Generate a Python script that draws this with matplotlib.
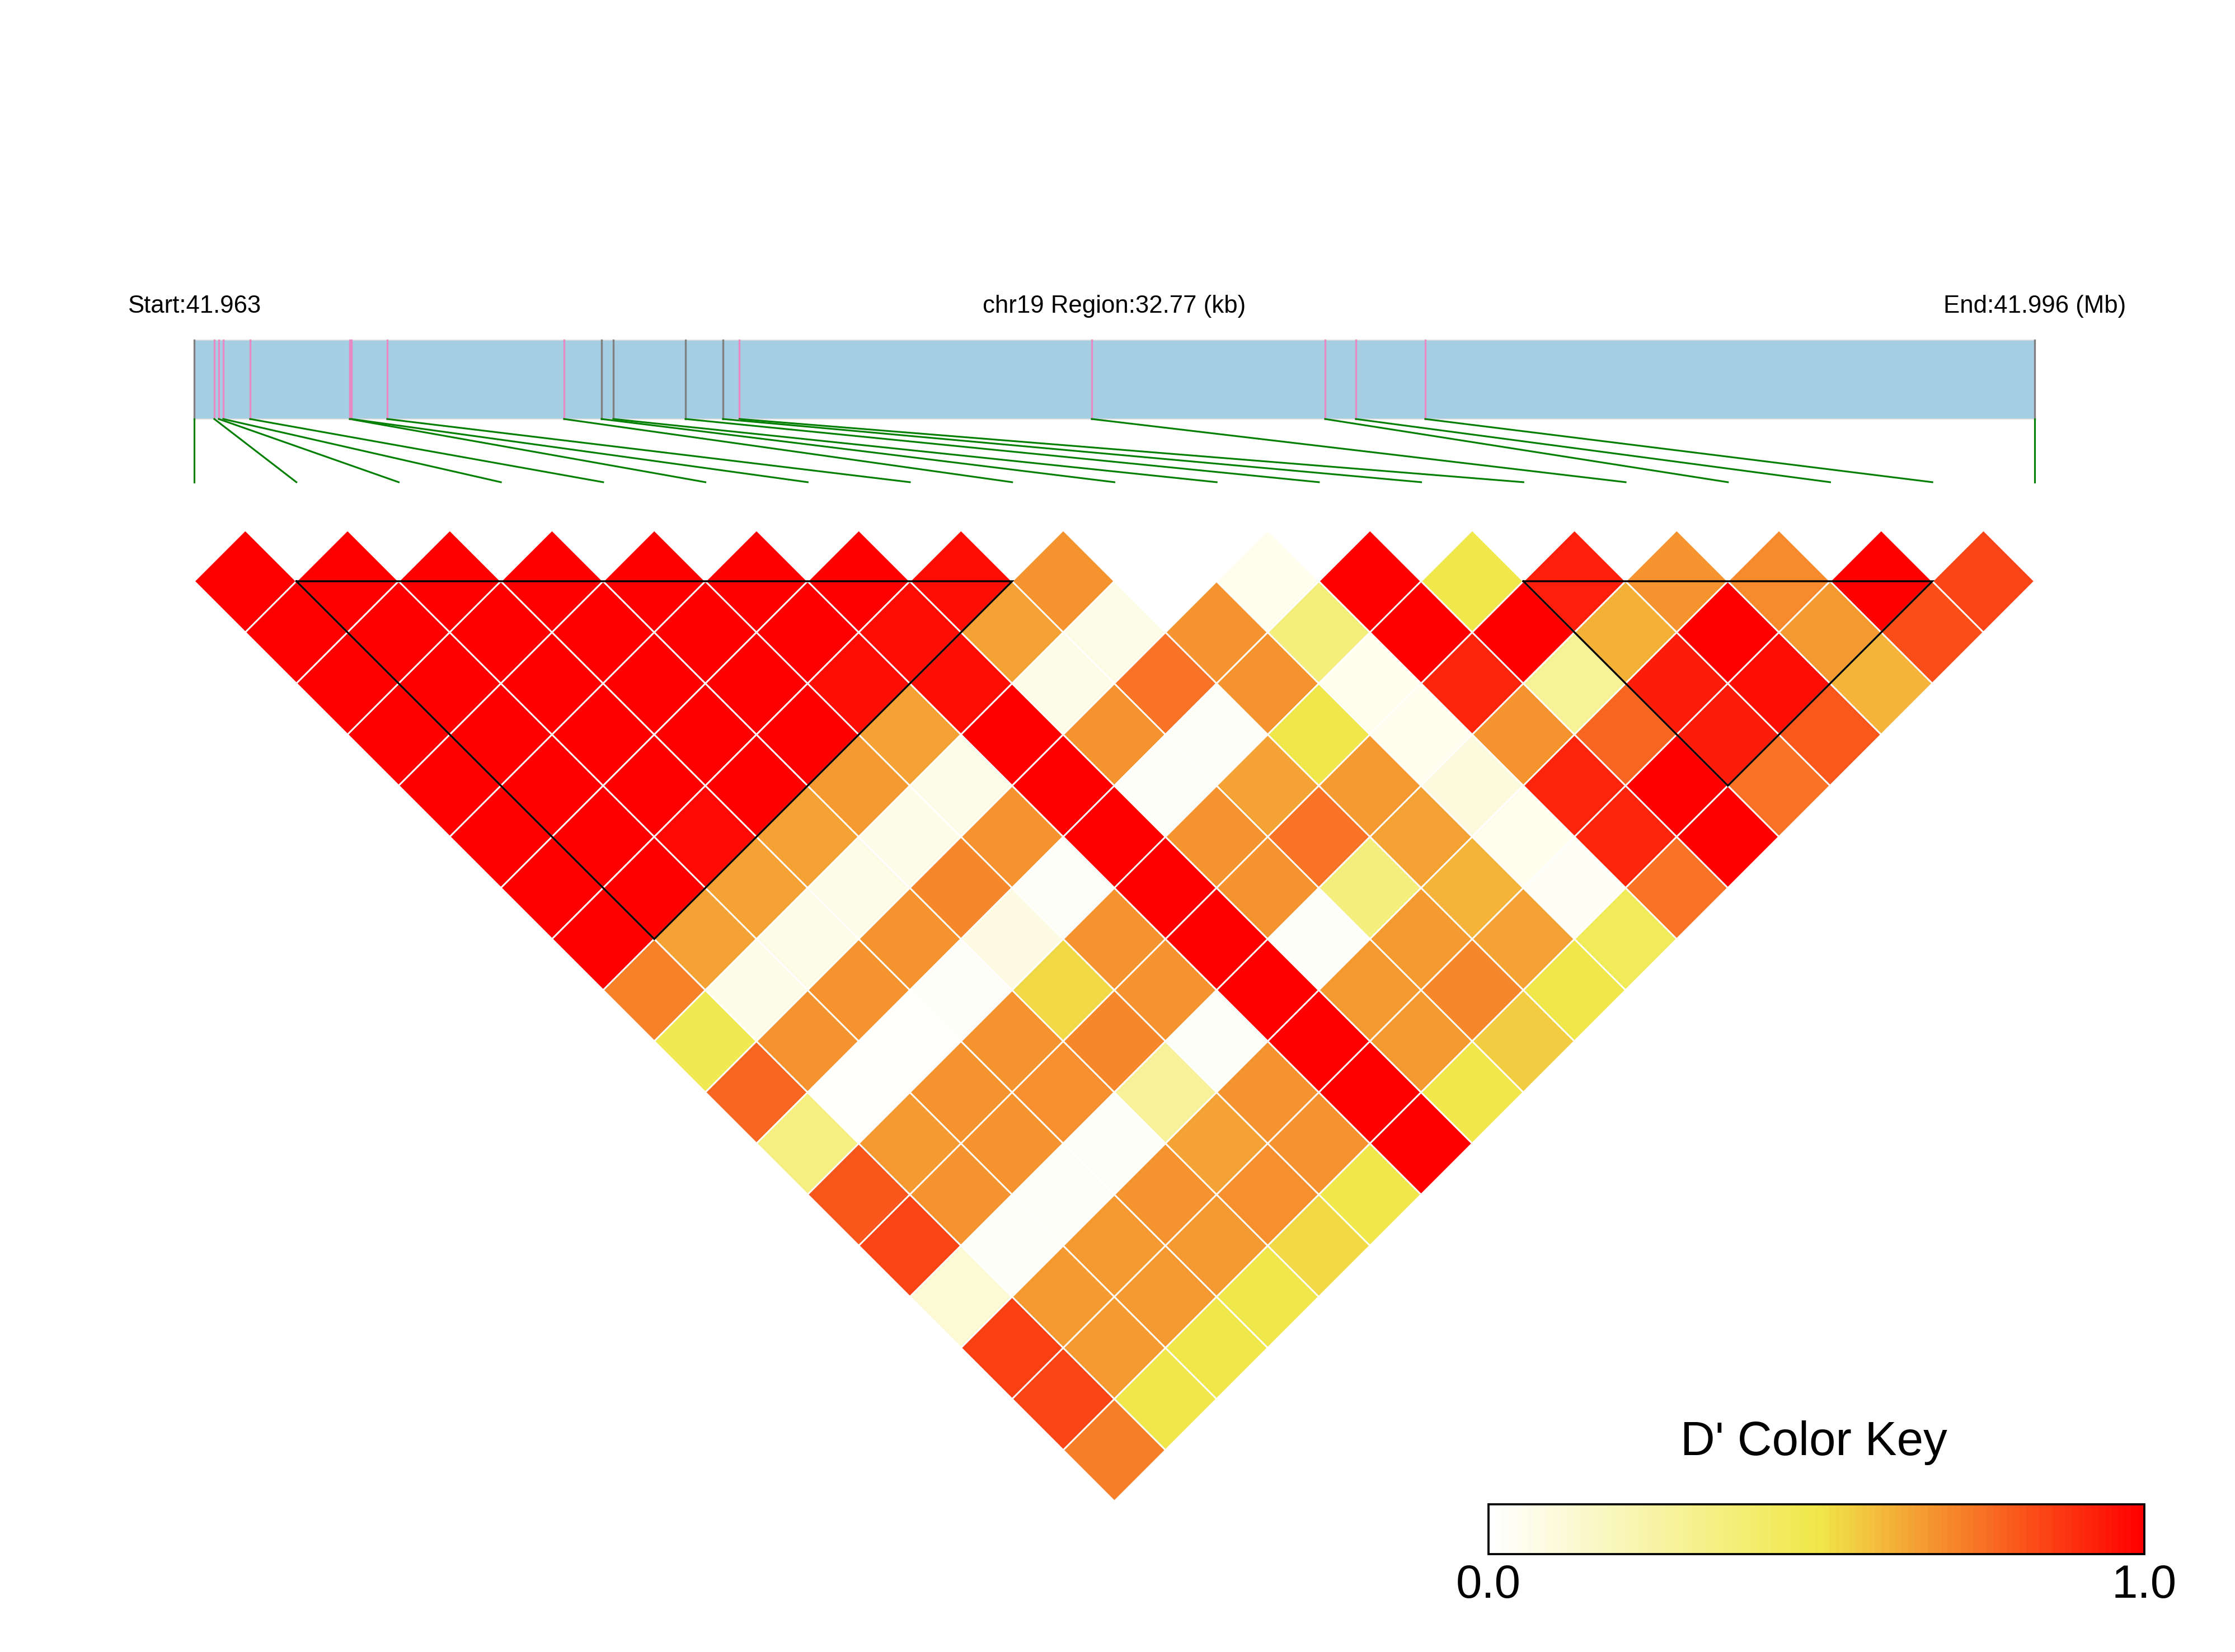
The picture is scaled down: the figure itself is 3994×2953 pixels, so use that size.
import numpy as np
import matplotlib
matplotlib.use("Agg")
import matplotlib.pyplot as plt
from matplotlib.patches import Polygon, Rectangle
from matplotlib.colors import LinearSegmentedColormap, ListedColormap, Normalize
from matplotlib.cm import ScalarMappable

plt.rcParams['font.family'] = ['Liberation Sans', 'DejaVu Sans']

# ---- data ----
chrom = "chr19"
region_start = 41963210
region_end = 41995980
snp_pos = [41963210, 41963569, 41963648, 41963728, 41964206, 41965980,
           41966010, 41966647, 41969796, 41970463, 41970673, 41971958,
           41972625, 41972919, 41979192, 41983347, 41983894, 41985130,
           41995980]
# colour of the tick of each SNP in the map bar
snp_tick = ['grey', 'pink', 'pink', 'pink', 'pink', 'pink', 'pink', 'pink',
            'pink', 'grey', 'grey', 'grey', 'grey', 'pink', 'pink', 'pink',
            'pink', 'pink', 'grey']

# D' values, row i holds pairs (i, j) for j = i+1 .. n-1
dprime = [
    [1.0, 1.0, 1.0, 1.0, 1.0, 1.0, 1.0, 1.0, 0.72, 0.48, 0.78, 0.35, 0.815, 0.85, 0.12, 0.86, 0.85, 0.73],
    [1.0, 1.0, 1.0, 1.0, 1.0, 1.0, 1.0, 0.65, 0.07, 0.68, 0.01, 0.67, 0.68, 0.02, 0.67, 0.67, 0.5],
    [1.0, 1.0, 1.0, 1.0, 1.0, 0.98, 0.65, 0.07, 0.68, 0.01, 0.68, 0.68, 0.02, 0.67, 0.67, 0.5],
    [1.0, 1.0, 1.0, 1.0, 1.0, 0.65, 0.07, 0.68, 0.02, 0.68, 0.69, 0.02, 0.68, 0.67, 0.5],
    [1.0, 1.0, 1.0, 1.0, 0.67, 0.07, 0.71, 0.08, 0.535, 0.71, 0.28, 0.65, 0.69, 0.535],
    [1.0, 1.0, 0.97, 0.65, 0.07, 0.68, 0.02, 0.68, 0.68, 0.02, 0.68, 0.68, 0.5],
    [1.0, 0.97, 0.97, 1.0, 1.0, 1.0, 1.0, 1.0, 1.0, 1.0, 1.0, 1.0],
    [0.97, 0.65, 0.07, 0.68, 0.02, 0.68, 0.68, 0.02, 0.67, 0.67, 0.5],
    [0.68, 0.07, 0.75, 0.02, 0.65, 0.75, 0.36, 0.67, 0.71, 0.56],
    [0.0, 0.68, 0.68, 0.5, 0.67, 0.65, 0.61, 0.65, 0.5],
    [0.05, 0.37, 0.05, 0.05, 0.1, 0.05, 0.03, 0.46],
    [1.0, 1.0, 0.92, 0.68, 0.92, 0.92, 0.75],
    [0.5, 1.0, 0.29, 0.78, 1.0, 1.0],
    [0.93, 0.62, 0.94, 0.94, 0.75],
    [0.68, 1.0, 0.97, 0.81],
    [0.7, 0.67, 0.61],
    [1.0, 0.83],
    [0.85],
]
blocks = [(1, 8), (13, 17)]
key_ticks = [0.0, 1.0]

n = len(snp_pos)

# colour scale: white -> yellow -> red
cmap = LinearSegmentedColormap.from_list(
    "dkey", [(0.0, "#FFFFFF"), (0.5, "#F0E84A"), (1.0, "#FF0000")])
key_cmap = ListedColormap(cmap(np.linspace(0, 1, 100)))

fig = plt.figure(figsize=(3994 / 300, 2953 / 300), dpi=300)
ax = fig.add_axes([0, 0, 1, 1])
ax.set_xlim(-1.899, 19.96)
ax.set_ylim(-10.475, 5.686)
ax.axis('off')

# ---- LD triangle ----
for i in range(n - 1):
    for k, val in enumerate(dprime[i]):
        j = i + 1 + k
        cx = (i + j) / 2.0
        cy = -(j - i - 1) / 2.0
        poly = Polygon([(cx - 0.5, cy), (cx, cy + 0.5), (cx + 0.5, cy), (cx, cy - 0.5)],
                       closed=True, facecolor=cmap(val), edgecolor='white',
                       linewidth=0.7, zorder=1)
        ax.add_patch(poly)

# haplotype blocks
for a, b in blocks:
    ax.plot([a, b, (a + b) / 2.0, a], [0, 0, -(b - a) / 2.0, 0],
            color='black', lw=0.8, zorder=3, solid_joinstyle='miter')

# ---- gene map ----
map_top, map_bot, link_bot, label_y = 2.359, 1.587, 0.969, 2.687
ax.add_patch(Rectangle((0, map_bot), n - 1, map_top - map_bot,
                       facecolor='#A6CEE3', edgecolor='#DDDDDD', lw=0.4, zorder=1))
tick_cols = {'grey': '#808080', 'pink': '#E78AC3'}
span = region_end - region_start
for idx, (p, c) in enumerate(zip(snp_pos, snp_tick)):
    mx = (p - region_start) / span * (n - 1)
    ax.plot([mx, mx], [map_bot, map_top], color=tick_cols[c], lw=0.8, zorder=2)
    ax.plot([mx, idx], [map_bot, link_bot], color='#007F00', lw=0.75, zorder=2)

ax.text(0, label_y, "Start:%.3f" % (region_start / 1e6), ha='center', va='center', fontsize=10.5)
ax.text((n - 1) / 2.0, label_y, "%s Region:%.2f (kb)" % (chrom, span / 1000.0),
        ha='center', va='center', fontsize=10.5)
ax.text(n - 1, label_y, "End:%.3f (Mb)" % (region_end / 1e6), ha='center', va='center', fontsize=10.5)

# ---- colour key ----
cax = fig.add_axes([0.666, 0.0593, 0.2934, 0.0301])
sm = ScalarMappable(norm=Normalize(0, 1), cmap=key_cmap)
cb = fig.colorbar(sm, cax=cax, orientation='horizontal')
cb.set_ticks(key_ticks)
cb.set_ticklabels(["%.1f" % t for t in key_ticks])
cb.outline.set_linewidth(0.9)
cax.tick_params(length=0, labelsize=20, pad=4)
fig.text(0.8117, 0.1265, "D' Color Key", ha='center', va='center', fontsize=20.5)

fig.savefig("out.png", dpi=300)
